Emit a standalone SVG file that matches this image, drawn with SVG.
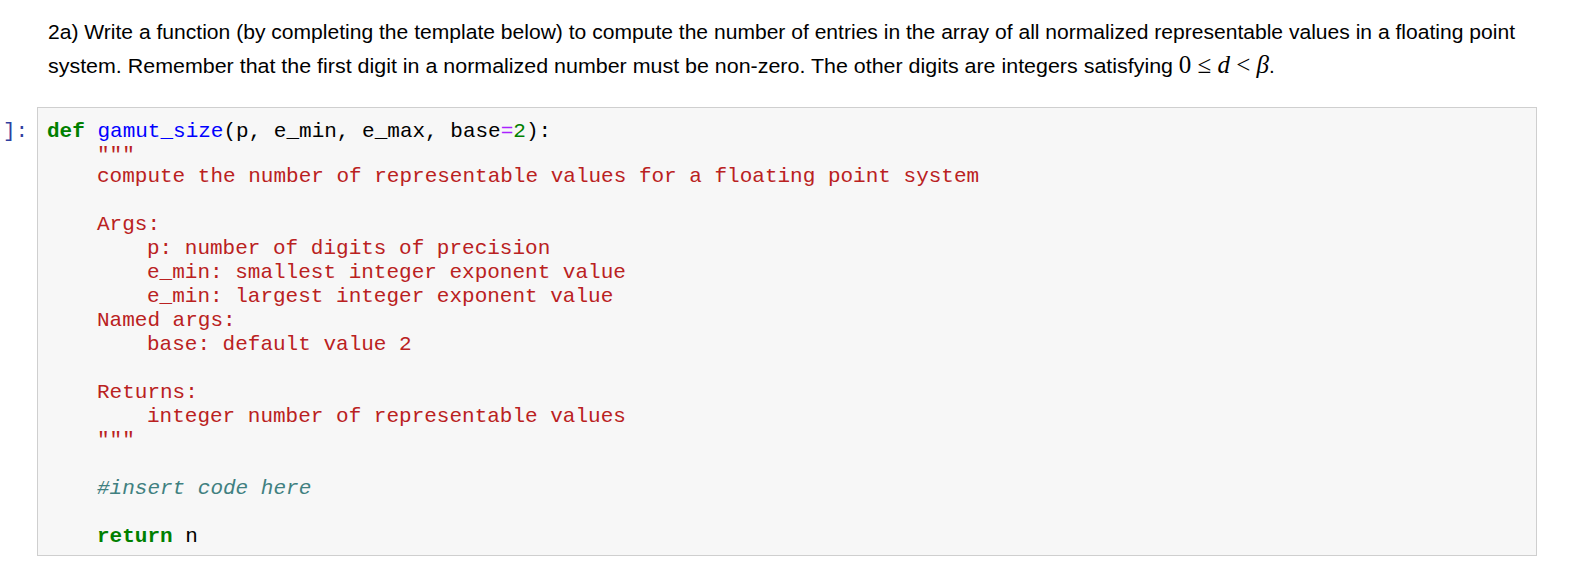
<svg xmlns="http://www.w3.org/2000/svg" width="1572" height="586" viewBox="0 0 1572 586">
<style>
.h{font-family:"Liberation Sans",Arial,sans-serif;font-size:20.5px;fill:#000}
.m{font-family:"Liberation Mono","Courier New",monospace;font-size:21px;white-space:pre}
.s{fill:#ba2121}.k{fill:#008000;font-weight:bold}.f{fill:#0000ff}.o{fill:#aa22ff}.n{fill:#008000}.c{fill:#408080;font-style:italic}.t{fill:#000}
</style>
<rect width="1572" height="586" fill="#fff"/>
<g id="prompt-text">
<text class="h" x="48" y="39" textLength="1467" lengthAdjust="spacingAndGlyphs">2a) Write a function (by completing the template below) to compute the number of entries in the array of all normalized representable values in a floating point</text>
<text class="h" x="48" y="73"><tspan textLength="1125" lengthAdjust="spacingAndGlyphs">system. Remember that the first digit in a normalized number must be non-zero. The other digits are integers satisfying</tspan> <tspan font-family="Liberation Serif,serif" font-size="25">0 ≤ <tspan font-style="italic">d</tspan> &lt; <tspan font-style="italic">β</tspan></tspan>.</text>
</g>
<g id="cell">
<text x="3" y="137" class="m" fill="#303f9f">]:</text>
<rect x="37.5" y="107.5" width="1499" height="448" fill="#f7f7f7" stroke="#cfcfcf"/>
<text class="m" x="47" y="137"><tspan class="k">def</tspan><tspan class="t"> </tspan><tspan class="f">gamut_size</tspan><tspan class="t">(p, e_min, e_max, base</tspan><tspan class="o">=</tspan><tspan class="n">2</tspan><tspan class="t">):</tspan></text>
<text class="m s" x="97" y="161">"""</text>
<text class="m s" x="97" y="182">compute the number of representable values for a floating point system</text>
<text class="m s" x="97" y="230">Args:</text>
<text class="m s" x="147" y="254">p: number of digits of precision</text>
<text class="m s" x="147" y="278">e_min: smallest integer exponent value</text>
<text class="m s" x="147" y="302">e_min: largest integer exponent value</text>
<text class="m s" x="97" y="326">Named args:</text>
<text class="m s" x="147" y="350">base: default value 2</text>
<text class="m s" x="97" y="398">Returns:</text>
<text class="m s" x="147" y="422">integer number of representable values</text>
<text class="m s" x="97" y="446">"""</text>
<text class="m c" x="97" y="494">#insert code here</text>
<text class="m" x="97" y="542"><tspan class="k">return</tspan><tspan class="t"> n</tspan></text>
</g>
</svg>
